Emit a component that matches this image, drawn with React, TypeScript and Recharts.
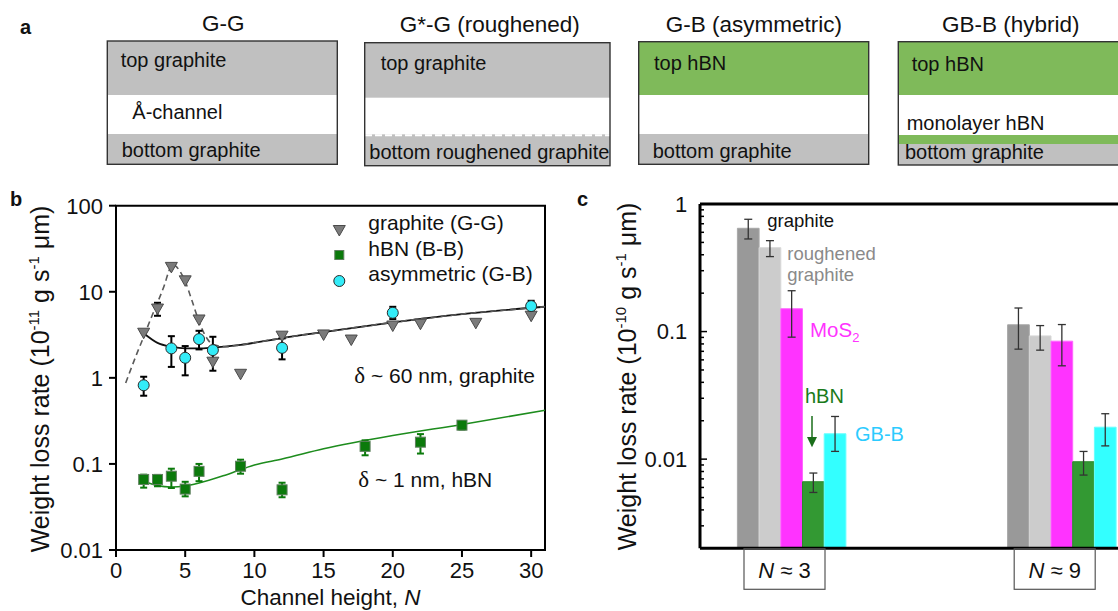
import React from 'react';
import {
  Bar,
  BarChart,
  ComposedChart,
  ErrorBar,
  Legend,
  Line,
  ReferenceArea,
  ReferenceLine,
  Scatter,
  XAxis,
  YAxis,
} from 'recharts';

const SANS = '"Liberation Sans", Arial, Helvetica, sans-serif';
const SERIF = '"Liberation Serif", "Times New Roman", serif';

// ---------- panel b : weight loss rate vs channel height ----------
// graphite channels (G-G)
const ggN = [2, 3, 4, 5, 6, 7, 9, 12, 15, 17, 20, 22, 26, 30];
const ggRate = [3.3, 6.3, 19.2, 13.4, 4.7, 1.52, 1.1, 3.05, 3.15, 2.75, 4.0, 4.2, 4.3, 5.2];
const ggLow = [null, 5.26, null, null, null, null, null, null, null, null, null, null, null, null];
const ggHigh = [null, 7.45, null, null, null, null, null, null, null, null, null, null, null, null];

// hBN channels (B-B)
const bbN = [2, 3, 4, 5, 6, 9, 12, 18, 22, 25];
const bbRate = [0.066, 0.066, 0.072, 0.051, 0.082, 0.094, 0.05, 0.16, 0.179, 0.282];
const bbLow = [0.053, 0.055, 0.0525, 0.042, 0.063, 0.077, 0.041, 0.126, 0.132, 0.251];
const bbHigh = [0.075, 0.0745, 0.088, 0.062, 0.1, 0.112, 0.0605, 0.188, 0.222, 0.311];

// asymmetric channels (G-B)
const gbN = [2, 4, 5, 6, 7, 12, 20, 30];
const gbRate = [0.82, 2.2, 1.71, 2.82, 2.1, 2.23, 5.7, 6.82];
const gbLow = [0.62, 1.34, 1.07, 2.14, 1.21, 1.64, 4.82, 5.76];
const gbHigh = [1.03, 3.05, 2.34, 3.52, 3.0, 2.87, 6.69, 7.86];

// fitted curves, sampled off the figure
const fitGbN = [2, 3, 4, 5, 6, 7, 9, 12, 15, 20, 25, 31];
const fitGbRate = [3.3, 2.55, 2.3, 2.2, 2.2, 2.25, 2.42, 2.9, 3.4, 4.4, 5.5, 6.7];

const fitGgN = [0.7, 1.5, 2, 2.5, 3, 3.5, 3.8, 4.05, 4.3, 4.6, 5, 5.5, 6, 6.5, 7, 8, 9, 12, 15, 20, 25, 31];
const fitGgRate = [0.87, 1.9, 3.0, 4.8, 7.5, 12, 17, 21, 20, 17.5, 13.2, 7.8, 4.5, 3.0, 2.45, 2.3, 2.42, 2.9, 3.4, 4.4, 5.5, 6.7];

const fitBbN = [2, 3, 4, 5, 6, 8, 10, 12, 15, 20, 25, 31];
const fitBbRate = [0.063, 0.056, 0.054, 0.0555, 0.06, 0.075, 0.097, 0.114, 0.15, 0.214, 0.287, 0.42];

const xTicksB = [0, 5, 10, 15, 20, 25, 30];
const yTicksB = [0.01, 0.1, 1, 10, 100];

// ---------- panel c : bars at two channel heights ----------
const groupN = ['3', '9'];
const cGraphite = [0.645, 0.113];
const cGraphiteLo = [0.532, 0.0728];
const cGraphiteHi = [0.759, 0.153];
const cRough = [0.455, 0.0925];
const cRoughLo = [0.387, 0.0715];
const cRoughHi = [0.516, 0.1114];
const cMoS2 = [0.151, 0.0841];
const cMoS2Lo = [0.0904, 0.0539];
const cMoS2Hi = [0.209, 0.1135];
const cHbn = [0.00665, 0.00954];
const cHbnLo = [0.00548, 0.0075];
const cHbnHi = [0.00778, 0.01149];
const cGbb = [0.0158, 0.0178];
const cGbbLo = [0.0115, 0.0127];
const cGbbHi = [0.0216, 0.0227];

const yMajorC = [0.01, 0.1, 1];
const yMinorMult = [2, 3, 4, 5, 6, 7, 8, 9];

const pts = (ns: number[], vs: number[]) => ns.map((n, i) => ({ n, rate: vs[i] }));
const withErr = (ns: number[], vs: number[], lo: (number | null)[], hi: (number | null)[]) =>
  ns.map((n, i) => ({
    n,
    rate: vs[i],
    err: lo[i] == null ? null : [vs[i] - (lo[i] as number), (hi[i] as number) - vs[i]],
  }));
const errOf = (v: number, lo: number, hi: number) => [v - lo, hi - v];

const ggData = withErr(ggN, ggRate, ggLow, ggHigh);
const bbData = withErr(bbN, bbRate, bbLow, bbHigh);
const gbData = withErr(gbN, gbRate, gbLow, gbHigh);

const cData = groupN.map((n, i) => ({
  n,
  graphite: cGraphite[i],
  graphiteErr: errOf(cGraphite[i], cGraphiteLo[i], cGraphiteHi[i]),
  rough: cRough[i],
  roughErr: errOf(cRough[i], cRoughLo[i], cRoughHi[i]),
  mos2: cMoS2[i],
  mos2Err: errOf(cMoS2[i], cMoS2Lo[i], cMoS2Hi[i]),
  hbn: cHbn[i],
  hbnErr: errOf(cHbn[i], cHbnLo[i], cHbnHi[i]),
  gbb: cGbb[i],
  gbbErr: errOf(cGbb[i], cGbbLo[i], cGbbHi[i]),
}));

const yTicksC: number[] = [];
[0.001, 0.01, 0.1].forEach((d) => yMinorMult.forEach((m) => yTicksC.push(+(d * m).toPrecision(3))));
yMajorC.forEach((v) => yTicksC.push(v));
const yTicksCInRange = yTicksC.filter((v) => v >= 0.002 && v <= 1).sort((a, b) => a - b);

// ---------- marker shapes ----------
const triPath = (cx: number, cy: number) => `M${cx - 6},${cy - 5} L${cx + 6},${cy - 5} L${cx},${cy + 5.5} Z`;

const DownTriangle = (p: any) =>
  p.cx == null ? null : <path d={triPath(p.cx, p.cy)} fill="#7b7b7b" stroke="#4a4a4a" strokeWidth={1} />;
const GreenSquare = (p: any) =>
  p.cx == null ? null : (
    <rect x={p.cx - 5} y={p.cy - 5} width={10} height={10} fill="#0b7a0b" stroke="#5f7f5f" strokeWidth={1} />
  );
const CyanDot = (p: any) =>
  p.cx == null ? null : <circle cx={p.cx} cy={p.cy} r={5.5} fill="#33ecf8" stroke="#2a2a2a" strokeWidth={1} />;

const LegendB = () => (
  <svg width={220} height={84} style={{ overflow: 'visible', display: 'block' }}>
    <path d={triPath(9.3, 20.5)} fill="#7b7b7b" stroke="#4a4a4a" strokeWidth={1} />
    <text x={38.3} y={20} fontSize={21} fill="#111">graphite (G-G)</text>
    <rect x={4.8} y={40.5} width={9} height={9} fill="#0b7a0b" stroke="#5f7f5f" strokeWidth={1} />
    <text x={38.3} y={45.5} fontSize={21} fill="#111">hBN (B-B)</text>
    <circle cx={9.3} cy={71} r={5.5} fill="#33ecf8" stroke="#2a2a2a" strokeWidth={1} />
    <text x={38.3} y={71} fontSize={21} fill="#111">asymmetric (G-B)</text>
  </svg>
);

function PanelB() {
  return (
    <ComposedChart width={560} height={431} margin={{ top: 25.7, right: 15, bottom: 0, left: 0 }}>
      <XAxis
        type="number"
        dataKey="n"
        domain={[0, 31]}
        ticks={xTicksB}
        allowDataOverflow
        height={61}
        tickSize={7}
        tickMargin={5}
        axisLine={{ stroke: '#000', strokeWidth: 2 }}
        tickLine={{ stroke: '#000', strokeWidth: 2 }}
        tick={{ fontSize: 22, fill: '#111' }}
      />
      <YAxis
        type="number"
        dataKey="rate"
        scale="log"
        domain={[0.01, 100]}
        ticks={yTicksB}
        allowDataOverflow
        width={116}
        tickSize={7}
        tickMargin={6}
        interval={0}
        axisLine={{ stroke: '#000', strokeWidth: 2 }}
        tickLine={{ stroke: '#000', strokeWidth: 2 }}
        tick={{ fontSize: 22, fill: '#111' }}
        tickFormatter={(v: number) => String(v)}
      />
      <ReferenceArea x1={0} x2={31} y1={0.01} y2={100} fill="none" stroke="#000" strokeWidth={2} />
      <Legend
        layout="horizontal"
        verticalAlign="middle"
        align="center"
        wrapperStyle={{ left: 330, top: 30, width: 220, height: 84 }}
        content={() => <LegendB />}
      />
      <Line data={pts(fitBbN, fitBbRate)} dataKey="rate" type="monotone" stroke="#1d8c1d" strokeWidth={1.6} dot={false} isAnimationActive={false} />
      <Line data={pts(fitGbN, fitGbRate)} dataKey="rate" type="monotone" stroke="#111" strokeWidth={1.8} dot={false} isAnimationActive={false} />
      <Line data={pts(fitGgN, fitGgRate)} dataKey="rate" type="monotone" stroke="#5a5a5a" strokeWidth={1.6} strokeDasharray="6 4" dot={false} isAnimationActive={false} />
      <Scatter data={ggData} dataKey="rate" shape={DownTriangle} isAnimationActive={false}>
        <ErrorBar dataKey="err" direction="y" width={3.5} stroke="#000" strokeWidth={2} isAnimationActive={false} />
      </Scatter>
      <Scatter data={bbData} dataKey="rate" shape={GreenSquare} isAnimationActive={false}>
        <ErrorBar dataKey="err" direction="y" width={3.5} stroke="#0b7a0b" strokeWidth={2} isAnimationActive={false} />
      </Scatter>
      <Scatter data={gbData} dataKey="rate" shape={CyanDot} isAnimationActive={false}>
        <ErrorBar dataKey="err" direction="y" width={3.5} stroke="#000" strokeWidth={2} isAnimationActive={false} />
      </Scatter>
    </ComposedChart>
  );
}

// panel c custom ticks (chart coords: axis x = 140, plot bottom = 368.3)
const C_AXIS_X = 140;
const C_BOTTOM = 368.3;

const LogTickC = (p: any) => {
  const v = p.payload.value;
  const lg = Math.log10(v);
  const major = Math.abs(lg - Math.round(lg)) < 1e-6;
  return (
    <g>
      <line x1={C_AXIS_X} x2={C_AXIS_X + (major ? 7 : 4)} y1={p.y} y2={p.y} stroke="#000" strokeWidth={1.5} />
      {major ? (
        <text x={127.3} y={p.y} dy="0.36em" textAnchor="end" fontSize={22} fill="#111">
          {String(v)}
        </text>
      ) : null}
    </g>
  );
};

const GroupTick = (p: any) => {
  const cx = p.x - 7;
  return (
    <g>
      <rect x={cx - 40.5} y={C_BOTTOM + 0.5} width={81} height={40.5} fill="none" stroke="#555" strokeWidth={1.2} />
      <text x={cx} y={398.3} textAnchor="middle" fontSize={22} fill="#111">
        <tspan fontStyle="italic">N</tspan> ≈ {p.payload.value}
      </text>
    </g>
  );
};

// plot area runs past the right edge of the figure (it is cropped there)
function PanelC() {
  return (
    <BarChart
      width={760}
      height={431}
      data={cData}
      margin={{ top: 24, right: 3.2, bottom: 0, left: 0 }}
      barGap={0}
      barSize={21.7}
    >
      <XAxis
        dataKey="n"
        padding={{ left: -43.6, right: 120 }}
        height={62.7}
        interval={0}
        axisLine={{ stroke: '#000', strokeWidth: 3 }}
        tickLine={false}
        tick={GroupTick}
      />
      <YAxis
        type="number"
        scale="log"
        domain={[0.002, 1]}
        allowDataOverflow
        ticks={yTicksCInRange}
        interval={0}
        width={140}
        axisLine={{ stroke: '#000', strokeWidth: 3 }}
        tickLine={false}
        tick={LogTickC}
      />
      <ReferenceLine y={1} stroke="#000" strokeWidth={3} />
      <Bar dataKey="graphite" fill="#999999" stroke="#a8a8a8" strokeWidth={1} isAnimationActive={false}>
        <ErrorBar dataKey="graphiteErr" direction="y" width={4} stroke="#333" strokeWidth={1.3} isAnimationActive={false} />
      </Bar>
      <Bar dataKey="rough" fill="#cccccc" stroke="#d8d8d8" strokeWidth={1} isAnimationActive={false}>
        <ErrorBar dataKey="roughErr" direction="y" width={4} stroke="#333" strokeWidth={1.3} isAnimationActive={false} />
      </Bar>
      <Bar dataKey="mos2" fill="#ff33ff" stroke="#ff66ff" strokeWidth={1} isAnimationActive={false}>
        <ErrorBar dataKey="mos2Err" direction="y" width={4} stroke="#333" strokeWidth={1.3} isAnimationActive={false} />
      </Bar>
      <Bar dataKey="hbn" fill="#339933" stroke="#2a8a2a" strokeWidth={1} isAnimationActive={false}>
        <ErrorBar dataKey="hbnErr" direction="y" width={4} stroke="#333" strokeWidth={1.3} isAnimationActive={false} />
      </Bar>
      <Bar dataKey="gbb" fill="#33ffff" stroke="#66ffff" strokeWidth={1} isAnimationActive={false}>
        <ErrorBar dataKey="gbbErr" direction="y" width={4} stroke="#333" strokeWidth={1.3} isAnimationActive={false} />
      </Bar>
    </BarChart>
  );
}

// ---------- panel a : schematic stacks ----------
const GRAY = '#c0c0c0';
const GREEN = '#7fba5a';

function PanelA() {
  const t = { fontSize: 20, fill: '#111' };
  const h = { fontSize: 22.5, fill: '#111', textAnchor: 'middle' as const };
  return (
    <svg width={1118} height={180} style={{ position: 'absolute', left: 0, top: 0 }}>
      <text x={20} y={34} fontSize={20} fontWeight="bold" fill="#111">a</text>

      <text x={223.3} y={31} {...h}>G-G</text>
      <rect x={107.3} y={41} width={230} height={54} fill={GRAY} />
      <rect x={107.3} y={134} width={230} height={30.3} fill={GRAY} />
      <rect x={107.3} y={41} width={230} height={123.3} fill="none" stroke="#333" strokeWidth={1.4} />
      <text x={120.7} y={66.7} {...t}>top graphite</text>
      <text x={132.3} y={119.3} {...t}>Å-channel</text>
      <text x={121.7} y={156.7} {...t}>bottom graphite</text>

      <text x={489.7} y={32.3} {...h}>G*-G (roughened)</text>
      <rect x={364.7} y={42.7} width={245.3} height={55} fill={GRAY} />
      <rect x={364.7} y={134.3} width={245.3} height={31.4} fill={GRAY} />
      <line x1={365} x2={610} y1={135.3} y2={135.3} stroke="#fff" strokeWidth={2} strokeDasharray="7 3" />
      <rect x={364.7} y={42.7} width={245.3} height={123} fill="none" stroke="#333" strokeWidth={1.4} />
      <text x={380.7} y={70} {...t}>top graphite</text>
      <text x={369.3} y={159.3} {...t}>bottom roughened graphite</text>

      <text x={753.8} y={32.3} {...h}>G-B (asymmetric)</text>
      <rect x={638.7} y={41.7} width={230} height={53.3} fill={GREEN} />
      <rect x={638.7} y={134} width={230} height={30.3} fill={GRAY} />
      <rect x={638.7} y={41.7} width={230} height={122.6} fill="none" stroke="#333" strokeWidth={1.4} />
      <text x={654} y={70} {...t}>top hBN</text>
      <text x={652.7} y={157.7} {...t}>bottom graphite</text>

      <text x={1010.8} y={32.3} {...h}>GB-B (hybrid)</text>
      <rect x={898.3} y={41.7} width={260} height={53.3} fill={GREEN} />
      <rect x={898.3} y={135} width={260} height={9} fill={GREEN} />
      <rect x={898.3} y={144} width={260} height={21} fill={GRAY} />
      <rect x={898.3} y={41.7} width={260} height={123.3} fill="none" stroke="#333" strokeWidth={1.4} />
      <text x={911.7} y={71} {...t}>top hBN</text>
      <text x={906.7} y={130} {...t}>monolayer hBN</text>
      <text x={905} y={159.3} {...t}>bottom graphite</text>
    </svg>
  );
}

// ---------- titles and in-plot labels ----------
const YTitle = ({ x, cy, exp }: { x: number; cy: number; exp: string }) => (
  <text x={x} y={cy} transform={`rotate(-90 ${x} ${cy})`} textAnchor="middle" fontSize={25} fill="#111">
    Weight loss rate (10
    <tspan fontSize={15} dy={-10}>{exp}</tspan>
    <tspan fontSize={25} dy={10}> g s</tspan>
    <tspan fontSize={15} dy={-10}>-1</tspan>
    <tspan fontSize={25} dy={10}> μm)</tspan>
  </text>
);

function Annotations() {
  return (
    <svg width={1118} height={611} style={{ position: 'absolute', left: 0, top: 0, pointerEvents: 'none' }}>
      <text x={10} y={206} fontSize={20} fontWeight="bold" fill="#111">b</text>
      <text x={577} y={206} fontSize={20} fontWeight="bold" fill="#111">c</text>

      <YTitle x={49} cy={379} exp="-11" />
      <text x={330.5} y={605} textAnchor="middle" fontSize={22.5} fill="#111">
        Channel height, <tspan fontStyle="italic">N</tspan>
      </text>
      <text x={354.3} y={382.7} fontSize={21} fill="#111">
        <tspan fontFamily={SERIF} fontSize={23}>δ</tspan> ~ 60 nm, graphite
      </text>
      <text x={358.3} y={487.3} fontSize={21} fill="#111">
        <tspan fontFamily={SERIF} fontSize={23}>δ</tspan> ~ 1 nm, hBN
      </text>

      <YTitle x={636} cy={376.5} exp="-10" />
      <text x={767.3} y={227.3} fontSize={18.5} fill="#111">graphite</text>
      <text x={787.3} y={260} fontSize={18.5} fill="#8a8a8a">roughened</text>
      <text x={787.3} y={280.7} fontSize={18.5} fill="#8a8a8a">graphite</text>
      <text x={810} y={336.7} fontSize={20.5} fill="#ff33ff">
        MoS<tspan fontSize={13} dy={5}>2</tspan>
      </text>
      <text x={805} y={403.3} fontSize={20} fill="#1a7a1a">hBN</text>
      <line x1={812} x2={812} y1={416} y2={439} stroke="#1a6e1a" strokeWidth={1.5} />
      <path d="M807,437 L817,437 L812,447.3 Z" fill="#1a6e1a" />
      <text x={855} y={440.7} fontSize={20} fill="#2ccbff">GB-B</text>
    </svg>
  );
}

export default function App() {
  return (
    <div
      style={{
        position: 'absolute',
        left: 0,
        top: 0,
        width: 1118,
        height: 611,
        overflow: 'hidden',
        background: '#fff',
        fontFamily: SANS,
      }}
    >
      <PanelA />
      <div style={{ position: 'absolute', left: 0, top: 180 }}>
        <PanelB />
      </div>
      <div style={{ position: 'absolute', left: 560, top: 180, width: 558, height: 431, overflow: 'hidden' }}>
        <PanelC />
      </div>
      <Annotations />
    </div>
  );
}
